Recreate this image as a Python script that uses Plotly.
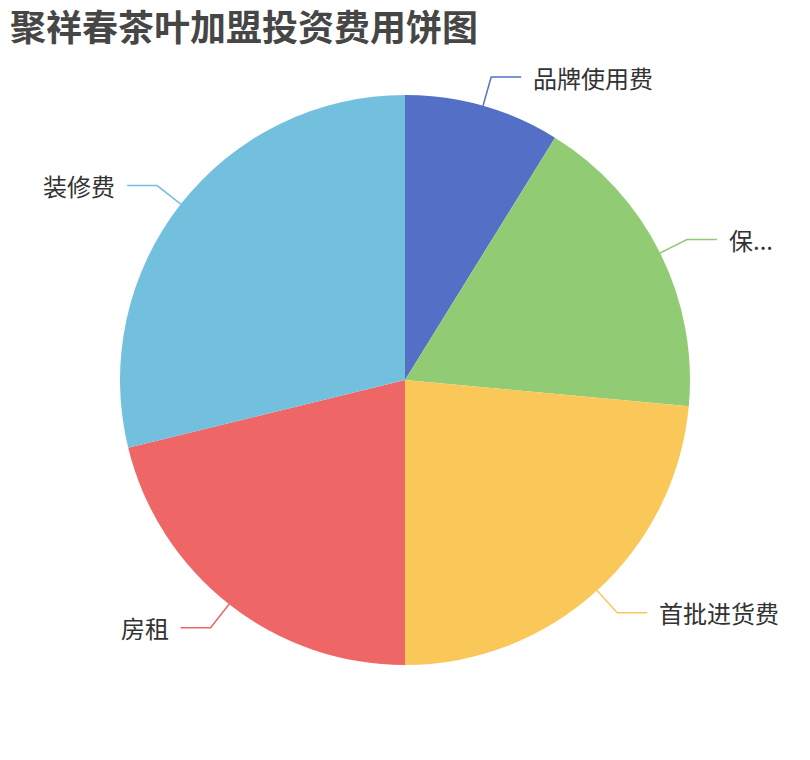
import math
import plotly.graph_objects as go

categories = ["品牌使用费", "保...", "首批进货费", "房租", "装修费"]
values = [3, 6, 8, 7.2, 9.8]
colors = ["#5470c6", "#91cc75", "#fac858", "#ee6666", "#73c0de"]
title_text = "聚祥春茶叶加盟投资费用饼图"

W, H = 810, 760
OFF = 8  # page body margin
CX, CY, R = 405, 380, 285
LEN1, LEN2, GAP = 30, 30, 10
FONT = "Noto Sans CJK SC, Noto Sans, sans-serif"


def px(x, y):
    return (x - OFF) / W, 1 - (y - OFF) / H


fig = go.Figure()
fig.add_trace(go.Pie(
    labels=categories,
    values=values,
    sort=False,
    direction="clockwise",
    rotation=0,
    marker=dict(colors=colors, line=dict(width=0)),
    textinfo="none",
    hoverinfo="label+value+percent",
    showlegend=False,
    domain=dict(x=[(CX - R - OFF) / W, (CX + R - OFF) / W],
                y=[1 - (CY + R - OFF) / H, 1 - (CY - R - OFF) / H]),
))

total = sum(values)
cum = 0
shapes = []
annotations = []
for name, v, c in zip(categories, values, colors):
    mid = (cum + v / 2) / total * 2 * math.pi
    cum += v
    sx, sy = math.sin(mid), -math.cos(mid)
    x0, y0 = CX + R * sx, CY + R * sy
    x1, y1 = CX + (R + LEN1) * sx, CY + (R + LEN1) * sy
    right = sx >= 0
    x2 = x1 + (LEN2 if right else -LEN2)
    y2 = y1
    p0, p1, p2 = px(x0, y0), px(x1, y1), px(x2, y2)
    shapes.append(dict(
        type="path", xref="paper", yref="paper",
        path=f"M {p0[0]},{p0[1]} L {p1[0]},{p1[1]} L {p2[0]},{p2[1]}",
        line=dict(color=c, width=1.5),
    ))
    tx = x2 + (GAP if right else -GAP)
    pt = px(tx, y2)
    annotations.append(dict(
        x=pt[0], y=pt[1], xref="paper", yref="paper",
        text=name, showarrow=False,
        xanchor="left" if right else "right", yanchor="middle",
        font=dict(family=FONT, size=24, color="#333333"),
    ))

tpos = px(8, 25)
annotations.append(dict(
    x=tpos[0], y=tpos[1], xref="paper", yref="paper",
    text=f"<b>{title_text}</b>", showarrow=False,
    xanchor="left", yanchor="middle",
    font=dict(family=FONT, size=36, color="#464646"),
))

fig.update_layout(
    width=W, height=H,
    margin=dict(l=0, r=0, t=0, b=0),
    paper_bgcolor="white",
    plot_bgcolor="white",
    shapes=shapes,
    annotations=annotations,
)

fig.write_html("out.html")
